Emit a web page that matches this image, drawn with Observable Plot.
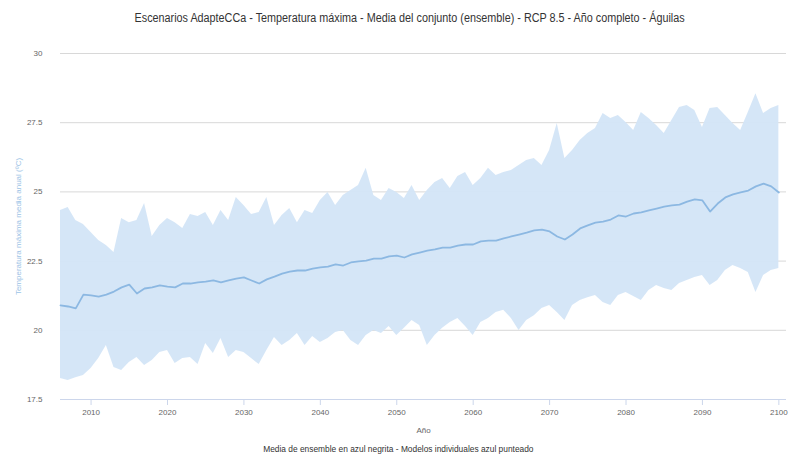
<!DOCTYPE html>
<html>
<head>
<meta charset="utf-8">
<script src="https://cdn.jsdelivr.net/npm/d3@7"></script>
<script src="https://cdn.jsdelivr.net/npm/@observablehq/plot@0.6"></script>
<style>
  body { margin: 0; background: #fff; font-family: "Liberation Sans", sans-serif; }
  #title { height: 36px; line-height: 36px; text-align: center; font-size: 12px; color: #333; padding-left: 25px; }
  #title span, #caption span { display: inline-block; transform: scaleX(0.9); transform-origin: center; }
  #caption { text-align: center; font-size: 9px; color: #333; margin-top: 4px; padding-left: 2px; }
  #caption span { transform: scaleX(0.93); }
</style>
</head>
<body>
<div id="title"><span>Escenarios AdapteCCa - Temperatura máxima - Media del conjunto (ensemble) - RCP 8.5 - Año completo - Águilas</span></div>
<div id="chart"></div>
<div id="caption"><span>Media de ensemble en azul negrita - Modelos individuales azul punteado</span></div>
<script>
const years = d3.range(2006, 2101);
const meanValues = [
  20.90, 20.86, 20.79, 21.29, 21.26, 21.22, 21.29, 21.40, 21.55, 21.65,
  21.33, 21.51, 21.55, 21.62, 21.58, 21.55, 21.69, 21.69, 21.73, 21.76,
  21.80, 21.73, 21.80, 21.87, 21.91, 21.80, 21.69, 21.84, 21.94, 22.05,
  22.12, 22.16, 22.16, 22.23, 22.27, 22.30, 22.38, 22.34, 22.45, 22.49,
  22.52, 22.59, 22.59, 22.67, 22.70, 22.63, 22.74, 22.81, 22.88, 22.92,
  22.99, 22.99, 23.06, 23.10, 23.10, 23.21, 23.24, 23.24, 23.32, 23.39,
  23.46, 23.53, 23.61, 23.64, 23.57, 23.39, 23.28, 23.46, 23.68, 23.79,
  23.89, 23.93, 24.00, 24.15, 24.11, 24.22, 24.26, 24.33, 24.40, 24.47,
  24.51, 24.54, 24.65, 24.73, 24.69, 24.29, 24.58, 24.80, 24.91, 24.98,
  25.05, 25.20, 25.30, 25.20, 24.98
];
const maxValues = [
  24.33, 24.44, 23.97, 23.82, 23.53, 23.24, 23.06, 22.81, 24.04, 23.89,
  23.97, 24.58, 23.39, 23.79, 24.04, 23.89, 23.68, 24.18, 24.11, 24.26,
  23.79, 24.33, 23.97, 24.80, 24.51, 24.18, 24.26, 24.80, 23.79, 24.15,
  24.40, 23.89, 24.33, 24.22, 24.69, 24.98, 24.51, 24.87, 25.05, 25.23,
  25.85, 24.87, 24.69, 25.12, 24.98, 24.76, 25.23, 24.69, 25.05, 25.34,
  25.48, 25.12, 25.56, 25.70, 25.23, 25.48, 25.85, 25.59, 25.70, 25.77,
  25.95, 26.13, 26.21, 25.95, 26.50, 27.47, 26.21, 26.50, 26.86, 27.11,
  27.29, 27.83, 27.65, 27.76, 27.51, 27.22, 27.87, 27.65, 27.40, 27.11,
  27.58, 28.05, 28.12, 27.94, 27.33, 28.01, 28.05, 27.76, 27.47, 27.22,
  27.87, 28.55, 27.83, 28.01, 28.12
];
const minValues = [
  18.26, 18.19, 18.29, 18.37, 18.62, 18.98, 19.45, 18.66, 18.55, 18.84,
  19.02, 18.73, 18.91, 19.20, 19.27, 18.80, 18.98, 19.02, 18.76, 19.52,
  19.16, 19.70, 19.02, 19.27, 19.20, 18.98, 18.76, 19.27, 19.74, 19.45,
  19.63, 19.88, 19.45, 19.78, 19.56, 19.70, 19.92, 19.99, 19.63, 19.45,
  19.81, 19.99, 19.88, 20.14, 19.81, 20.07, 20.35, 20.17, 19.45, 19.81,
  20.07, 20.28, 20.43, 20.14, 19.81, 20.28, 20.43, 20.64, 20.72, 20.43,
  19.99, 20.35, 20.53, 20.79, 20.90, 20.64, 20.35, 20.90, 21.08, 21.18,
  21.26, 21.00, 20.90, 21.26, 21.37, 21.22, 21.08, 21.44, 21.62, 21.51,
  21.44, 21.69, 21.80, 21.91, 21.98, 21.62, 21.80, 22.16, 22.34, 22.23,
  22.09, 21.37, 21.98, 22.16, 22.23
];
const yTicks = [17.5, 20, 22.5, 25, 27.5, 30];
const xTicks = d3.range(2010, 2101, 10);
const yLabel = "Temperatura máxima media anual (ºC)";

const data = years.map((year, i) => ({year, mean: meanValues[i], max: maxValues[i], min: minValues[i]}));

const chart = Plot.plot({
  width: 795,
  height: 404,
  marginTop: 17,
  marginLeft: 60,
  marginRight: 9,
  marginBottom: 41,
  style: {fontFamily: "'Liberation Sans', sans-serif", fontSize: "8px", color: "#666"},
  x: {domain: [2006, 2101], label: null},
  y: {domain: [17.5, 30], label: null},
  marks: [
    Plot.gridY(yTicks, {stroke: "#d8d8d8", strokeOpacity: 1}),
    Plot.areaY(data, {x: "year", y1: "min", y2: "max", fill: "#d3e5f7", fillOpacity: 0.95, curve: "linear"}),
    Plot.lineY(data, {x: "year", y: "mean", stroke: "#8cb8e2", strokeWidth: 1.8}),
    Plot.ruleY([17.5], {stroke: "#ccd6eb"}),
    Plot.axisX(xTicks, {tickFormat: d => String(d), tickSize: 6, stroke: "#ccd6eb", fill: "#666", tickPadding: 4}),
    Plot.axisY(yTicks, {tickFormat: d => String(d), tickSize: 0, tickPadding: 18, fill: "#666"}),
    Plot.text(["Año"], {frameAnchor: "bottom", dy: 33, fill: "#666", fontSize: 8}),
    Plot.text([yLabel], {frameAnchor: "left", dx: -42, rotate: -90, textAnchor: "middle", fill: "#9cc3e6", fontSize: 8})
  ]
});
document.getElementById("chart").appendChild(chart);
</script>
</body>
</html>
